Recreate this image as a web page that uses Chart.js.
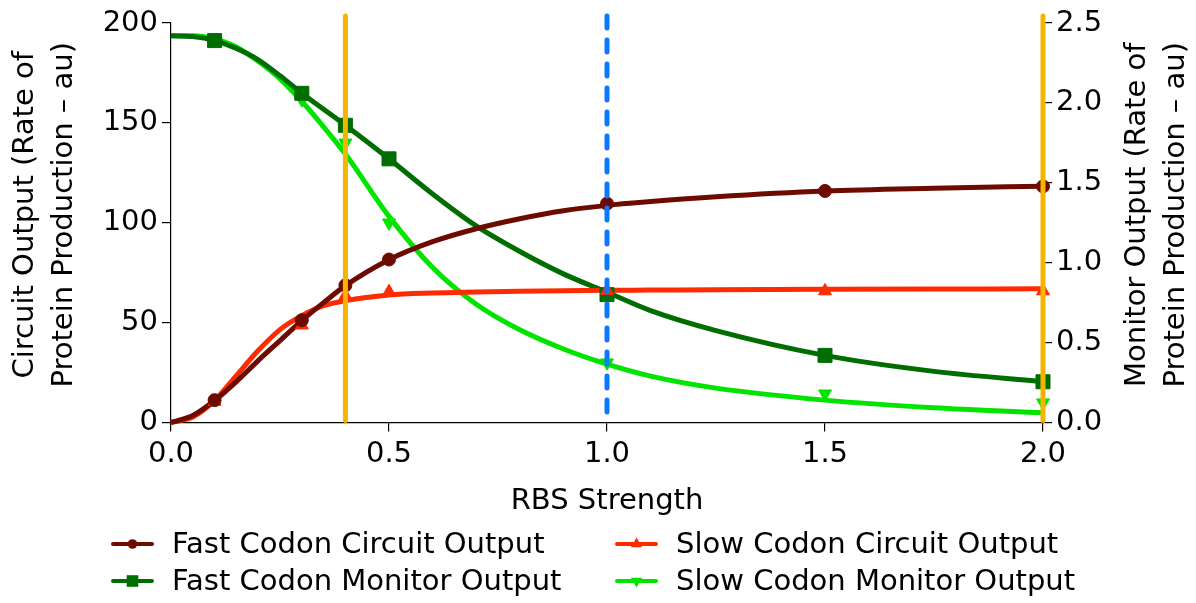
<!DOCTYPE html>
<html>
<head>
<meta charset="utf-8">
<title>RBS Strength vs Output</title>
<script src="https://cdn.jsdelivr.net/npm/chart.js@4.4.1/dist/chart.umd.min.js"></script>
<style>
  html, body { margin: 0; padding: 0; background: #fff; }
  #wrap { position: relative; width: 1196px; height: 603px; }
</style>
</head>
<body>
<div id="wrap"><canvas id="rbsChart"></canvas></div>
<script>
// values

// measured points (markers)
const markerX = [0.1, 0.3, 0.4, 0.5, 1.0, 1.5, 2.0];
const fastCircuitPts = [11.2, 51.2, 68.7, 81.6, 109.6, 115.9, 118.2];
const slowCircuitPts = [10.5, 48.7, 63.5, 65.5, 66.0, 65.8, 65.8];
const fastMonitorPts = [2.39, 2.06, 1.86, 1.65, 0.80, 0.42, 0.255];
const slowMonitorPts = [2.40, 2.02, 1.75, 1.25, 0.374, 0.18, 0.124];

// model curves (read at these x positions)
const curveX = [0, 0.05, 0.1, 0.15, 0.2, 0.25, 0.3, 0.35, 0.4, 0.5, 0.6, 0.7, 0.8, 0.9, 1.0, 1.1, 1.25, 1.5, 1.75, 2.0];
const fastCircuitCurve = [0, 3.5, 11, 20.5, 31, 41, 51, 60, 68.5, 81.5, 90.5, 97, 102, 106, 108.7, 110.6, 113, 115.9, 117.3, 118.3];
const slowCircuitCurve = [0, 2.7, 11, 23.5, 36, 46.5, 53.5, 58.5, 61, 63.8, 64.8, 65.3, 65.7, 66, 66.2, 66.3, 66.5, 66.7, 66.8, 66.9];
const fastMonitorCurve = [2.42, 2.415, 2.39, 2.34, 2.27, 2.17, 2.06, 1.96, 1.86, 1.65, 1.43, 1.23, 1.07, 0.93, 0.815, 0.70, 0.575, 0.42, 0.32, 0.255];
const slowMonitorCurve = [2.42, 2.42, 2.40, 2.35, 2.26, 2.15, 2.01, 1.85, 1.68, 1.29, 0.97, 0.74, 0.58, 0.46, 0.365, 0.29, 0.215, 0.14, 0.092, 0.061];

// tick labels
const xTicks = [0, 0.5, 1.0, 1.5, 2.0];
const leftTicks = [0, 50, 100, 150, 200];
const rightTicks = [0, 0.5, 1.0, 1.5, 2.0, 2.5];

// vertical guide lines (x in RBS strength, extent in left-axis units)
const guideX = [0.4, 1.0, 2.0];
const guideTop = [203.5, 203.5, 203.5];
const guideBottom = [1, 1, 1];

const labels = [
  'Fast Codon Circuit Output',
  'Slow Codon Circuit Output',
  'Fast Codon Monitor Output',
  'Slow Codon Monitor Output'
];

const FONT = 'DejaVu Sans';
const COLORS = {
  fastCircuit: '#6e0b00',
  slowCircuit: '#ff2b00',
  fastMonitor: '#006d00',
  slowMonitor: '#00e400',
  orange: '#f5b400',
  blue: '#0a78ff'
};

Chart.defaults.font.family = FONT;
Chart.defaults.font.size = 29;
Chart.defaults.color = '#000';

function toPoints(xs, ys) {
  return xs.map((x, i) => ({ x: x, y: ys[i] }));
}

function curve(label, ys, color, axis) {
  return {
    label: label,
    data: toPoints(curveX, ys),
    borderColor: color,
    backgroundColor: color,
    borderWidth: 5,
    pointRadius: 0,
    pointHoverRadius: 0,
    cubicInterpolationMode: 'monotone',
    yAxisID: axis,
    order: 2,
    clip: false
  };
}

function marks(label, ys, color, axis, style, radius, rotation) {
  return {
    label: label,
    data: toPoints(markerX, ys),
    showLine: false,
    borderColor: color,
    backgroundColor: color,
    pointStyle: style,
    pointRadius: radius,
    pointHoverRadius: radius,
    pointRotation: rotation || 0,
    pointBorderWidth: 1,
    yAxisID: axis,
    order: 1,
    clip: false
  };
}

const series = [
  { color: COLORS.fastCircuit, style: 'circle', radius: 6.5, rotation: 0, legendR: 4.8 },
  { color: COLORS.slowCircuit, style: 'triangle', radius: 7.5, rotation: 0, legendR: 6.5 },
  { color: COLORS.fastMonitor, style: 'rect', radius: 9.9, rotation: 0, legendR: 8.2 },
  { color: COLORS.slowMonitor, style: 'triangle', radius: 7.5, rotation: 180, legendR: 6.5 }
];

const datasets = [
  curve(labels[0], fastCircuitCurve, COLORS.fastCircuit, 'y'),
  curve(labels[1], slowCircuitCurve, COLORS.slowCircuit, 'y'),
  curve(labels[2], fastMonitorCurve, COLORS.fastMonitor, 'y2'),
  curve(labels[3], slowMonitorCurve, COLORS.slowMonitor, 'y2'),
  marks(labels[0], fastCircuitPts, COLORS.fastCircuit, 'y', 'circle', 6.5),
  marks(labels[1], slowCircuitPts, COLORS.slowCircuit, 'y', 'triangle', 7.5),
  marks(labels[2], fastMonitorPts, COLORS.fastMonitor, 'y2', 'rect', 9.9),
  marks(labels[3], slowMonitorPts, COLORS.slowMonitor, 'y2', 'triangle', 7.5, 180)
];

// orange / blue vertical guides drawn over the data
const guidePlugin = {
  id: 'guides',
  afterDatasetsDraw(chart) {
    const { ctx } = chart;
    const x = chart.scales.x;
    const y = chart.scales.y;
    guideX.forEach((gx, i) => {
      const px = x.getPixelForValue(gx);
      ctx.save();
      ctx.strokeStyle = gx === 1.0 ? COLORS.blue : COLORS.orange;
      ctx.lineWidth = 5;
      ctx.lineCap = 'round';
      ctx.setLineDash(gx === 1.0 ? [12, 12] : []);
      ctx.beginPath();
      ctx.moveTo(px, y.getPixelForValue(guideTop[i]));
      ctx.lineTo(px, y.getPixelForValue(guideBottom[i]));
      ctx.stroke();
      ctx.restore();
    });
  }
};

function drawMarker(ctx, style, r, rotation, cx, cy) {
  ctx.beginPath();
  if (style === 'circle') {
    ctx.arc(cx, cy, r, 0, Math.PI * 2);
  } else if (style === 'rect') {
    const s = Math.SQRT1_2 * r;
    ctx.rect(cx - s, cy - s, 2 * s, 2 * s);
  } else {
    const dir = rotation === 180 ? -1 : 1;
    ctx.moveTo(cx, cy - dir * r);
    ctx.lineTo(cx + 0.866 * r, cy + dir * r / 2);
    ctx.lineTo(cx - 0.866 * r, cy + dir * r / 2);
    ctx.closePath();
  }
  ctx.fill();
}

// axis titles (both rotated bottom-to-top) and the two-column legend
const textPlugin = {
  id: 'texts',
  afterDraw(chart) {
    const { ctx, chartArea } = chart;
    const midY = (chartArea.top + chartArea.bottom) / 2 - 8;
    ctx.save();
    ctx.fillStyle = '#000';
    ctx.font = '29px "' + FONT + '"';
    ctx.textAlign = 'center';
    ctx.textBaseline = 'middle';

    const yTitles = [
      { x: 25, text: 'Circuit Output (Rate of' },
      { x: 64, text: 'Protein Production – au)' },
      { x: 1137, text: 'Monitor Output (Rate of' },
      { x: 1176, text: 'Protein Production – au)' }
    ];
    yTitles.forEach(t => {
      ctx.save();
      ctx.translate(t.x, midY);
      ctx.rotate(-Math.PI / 2);
      ctx.fillText(t.text, 0, 0);
      ctx.restore();
    });

    ctx.fillText('RBS Strength', (chartArea.left + chartArea.right) / 2, 501);

    // legend
    const cols = [113, 617];
    const rows = [544, 581];
    const order = [0, 2, 1, 3]; // column-major like the original
    order.forEach((si, k) => {
      const lx = cols[Math.floor(k / 2)];
      const ly = rows[k % 2];
      const s = series[si];
      ctx.save();
      ctx.strokeStyle = s.color;
      ctx.fillStyle = s.color;
      ctx.lineWidth = 4;
      ctx.lineCap = 'round';
      ctx.beginPath();
      ctx.moveTo(lx, ly);
      ctx.lineTo(lx + 39, ly);
      ctx.stroke();
      drawMarker(ctx, s.style, s.legendR, s.rotation, lx + 19.5, ly);
      ctx.restore();
      ctx.textAlign = 'left';
      ctx.fillText(labels[si], lx + 59, ly + 1);
    });
    ctx.restore();
  }
};

function initChart() {
  const canvas = document.getElementById('rbsChart');
  if (!canvas) return;
  const axisLine = { display: true, color: '#000', width: 1.2 };
  const tickMarks = { display: true, drawOnChartArea: false, drawTicks: true, tickLength: 9, color: '#000', lineWidth: 1.2 };

  new Chart(canvas.getContext('2d'), {
    type: 'line',
    data: { datasets: datasets },
    options: {
      animation: false,
      responsive: true,
      maintainAspectRatio: false,
      layout: { padding: { top: 23, left: 0, right: 0, bottom: 0 } },
      plugins: {
        legend: { display: false },
        tooltip: { enabled: false }
      },
      scales: {
        x: {
          type: 'linear',
          min: 0,
          max: 2,
          afterBuildTicks: (s) => { s.ticks = xTicks.map(v => ({ value: v })); },
          afterFit: (s) => { s.height = 180.5; },
          ticks: { padding: 6, callback: (v) => v.toFixed(1) },
          grid: tickMarks,
          border: axisLine
        },
        y: {
          position: 'left',
          min: 0,
          max: 200,
          afterBuildTicks: (s) => { s.ticks = leftTicks.map(v => ({ value: v })); },
          afterFit: (s) => { s.width = 171; },
          ticks: { padding: 4, callback: (v) => String(v) },
          grid: tickMarks,
          border: axisLine
        },
        y2: {
          position: 'right',
          min: 0,
          max: 2.5,
          afterBuildTicks: (s) => { s.ticks = rightTicks.map(v => ({ value: v })); },
          afterFit: (s) => { s.width = 153; },
          ticks: { padding: 4, callback: (v) => v.toFixed(1) },
          grid: tickMarks,
          border: axisLine
        }
      }
    },
    plugins: [guidePlugin, textPlugin]
  });
}

document.addEventListener('DOMContentLoaded', initChart);
</script>
</body>
</html>
